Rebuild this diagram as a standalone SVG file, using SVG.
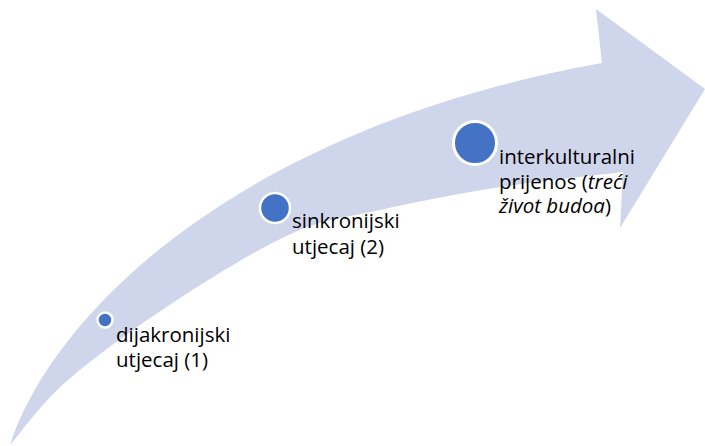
<svg xmlns="http://www.w3.org/2000/svg" width="705" height="446" viewBox="0 0 705 446">
  <style>
    .arrow { fill: #CFD5EA; stroke: none; }
    .dot { fill: #4472C4; stroke: #FFFFFF; }
    .lbl { font-family: "Open Sans", "Liberation Sans", sans-serif; font-size: 20.5px; fill: #000000; }
    .it { font-style: italic; }
  </style>
  <rect width="705" height="446" fill="#FFFFFF"/>
  <g id="arrow">
    <path class="arrow" d="M10,445 C50,320 230,130 602,63 L596,9 L705,89 L620,228 L623,172 C603.3,174.5 540.7,180.7 500,187 C459.3,193.3 414.5,202.3 380,210 C345.5,217.7 326.8,218 293,233 C259.2,248 214.5,275.5 177,300 C139.5,324.5 95.8,355.8 68,380 C40.2,404.2 19.7,434.2 10,445 Z"/>
  </g>
  <g id="connectors"></g>
  <g id="node1">
    <circle class="dot" cx="105" cy="320" r="7.5" stroke-width="2.5"/>
    <text class="lbl" x="116" y="342"><tspan x="116">dijakronijski</tspan><tspan x="116" dy="25">utjecaj (1)</tspan></text>
  </g>
  <g id="node2">
    <circle class="dot" cx="275" cy="208" r="15" stroke-width="2.5"/>
    <text class="lbl" x="292" y="228"><tspan x="292">sinkronijski</tspan><tspan x="292" dy="26">utjecaj (2)</tspan></text>
  </g>
  <g id="node3">
    <circle class="dot" cx="475" cy="143" r="21.5" stroke-width="3"/>
    <text class="lbl" x="499" y="164"><tspan x="499">interkulturalni</tspan><tspan x="499" dy="24.5">prijenos (</tspan><tspan class="it">treći</tspan><tspan x="499" dy="24.5" class="it">život budoa</tspan><tspan>)</tspan></text>
  </g>
</svg>
